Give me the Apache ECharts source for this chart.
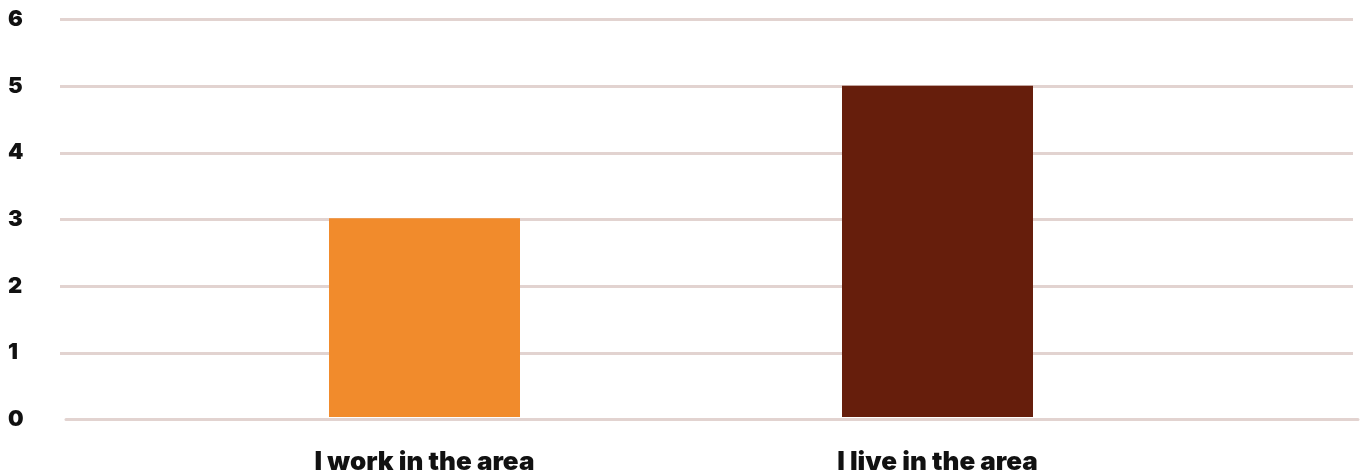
<!DOCTYPE html>
<html>
<head>
<meta charset="utf-8">
<script src="https://cdn.jsdelivr.net/npm/echarts@6/dist/echarts.min.js"></script>
<style>
  html, body { margin: 0; padding: 0; background: #ffffff; }
  #chart { width: 1365px; height: 475px; }
</style>
</head>
<body>
<div id="chart"></div>
<script>
// Responses: reasons for being connected to the area
const categories = ['I work in the area', 'I live in the area'];
const counts = [3, 5];
const barColors = ['#F18B2C', '#661E0C'];
const yTicks = [0, 1, 2, 3, 4, 5, 6];

const FONT = 'Inter, "Open Sans", "Noto Sans", sans-serif';
const GRID_COLOR = '#E2D3D0';

const chart = echarts.init(document.getElementById('chart'), null, { renderer: 'canvas' });

const yMin = yTicks[0];
const yMax = yTicks[yTicks.length - 1];

// the zero line is drawn by the baseline axis, so skip it among the gridlines
const gridLineColors = yTicks.map((v, i) => (i === 0 ? 'rgba(0,0,0,0)' : GRID_COLOR));

chart.setOption({
  animation: false,
  backgroundColor: '#ffffff',
  grid: [
    // value scale with gridlines and tick labels
    { left: 60, right: 12, top: 19.5, bottom: 55.5 },
    // baseline at zero
    { left: 66, right: 7, top: 19.5, bottom: 55.5 },
    // bars and category labels
    { left: 168, right: 171, top: 19.5, bottom: 55.5 }
  ],
  xAxis: [
    { gridIndex: 0, type: 'category', data: [''], show: false },
    {
      gridIndex: 1, type: 'category', data: [''],
      axisLine: { show: true, lineStyle: { color: GRID_COLOR, width: 3 } },
      axisTick: { show: false }, axisLabel: { show: false }
    },
    {
      gridIndex: 2, type: 'category', data: categories,
      axisLine: { show: false }, axisTick: { show: false },
      axisLabel: {
        color: '#111111', fontFamily: FONT, fontWeight: 900, fontSize: 26,
        margin: 32
      }
    }
  ],
  yAxis: [
    {
      gridIndex: 0, type: 'value', min: yMin, max: yMax, interval: 1,
      axisLine: { show: false }, axisTick: { show: false },
      splitLine: { show: true, lineStyle: { color: gridLineColors, width: 3 } },
      axisLabel: {
        color: '#111111', fontFamily: FONT, fontWeight: 900, fontSize: 22,
        align: 'left', margin: 52, padding: [4, 0, 0, 0],
        formatter: v => yTicks.includes(v) ? String(v) : ''
      }
    },
    { gridIndex: 1, type: 'value', min: yMin, max: yMax, show: false },
    { gridIndex: 2, type: 'value', min: yMin, max: yMax, show: false }
  ],
  series: [
    {
      type: 'bar',
      xAxisIndex: 2, yAxisIndex: 2,
      barWidth: 191,
      data: counts.map((v, i) => ({ value: v, itemStyle: { color: barColors[i] } }))
    }
  ]
});
</script>
</body>
</html>
